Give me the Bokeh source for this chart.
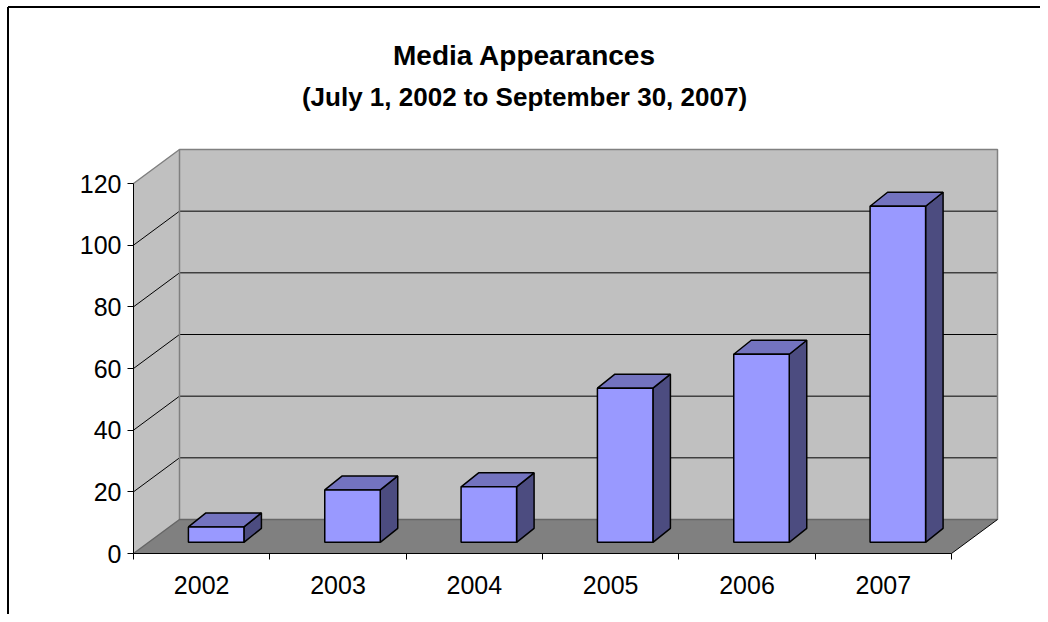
from bokeh.plotting import figure
from bokeh.models import Range1d, LinearAxis, FixedTicker
from bokeh.embed import file_html
from bokeh.resources import INLINE
from bokeh.core.properties import value

# ---- data ----
years = ["2002", "2003", "2004", "2005", "2006", "2007"]
counts = [5, 17, 18, 50, 61, 109]
y_ticks = [0, 20, 40, 60, 80, 100, 120]
title_text = "Media Appearances"
subtitle_text = "(July 1, 2002 to September 30, 2007)"

W, H = 1040, 614
AX_L, AX_B = 133, 553       # front axis corner (px)
PX_X = 818 / 6              # px per category
PX_Y = 370 / 120            # px per unit
x0 = -AX_L / PX_X
x1 = (W - AX_L) / PX_X
y0 = -(H - AX_B) / PX_Y
y1 = 120 + (AX_B - 370) / PX_Y

def sy(py):  # screen y (px from top) -> data y
    return (AX_B - py) / PX_Y

def sx(px):
    return (px - AX_L) / PX_X

p = figure(width=W, height=H, output_backend="svg", toolbar_location=None,
           x_axis_type=None, y_axis_type=None,
           x_range=Range1d(x0, x1), y_range=Range1d(y0, y1),
           min_border=0, background_fill_color="white", border_fill_color="white")
p.outline_line_color = None

n = len(years)
ymax = y_ticks[-1]
DX = 46 / PX_X
DY = 34 / PX_Y

WALL = "#C0C0C0"
FLOOR = "#808080"
EDGE = "#808080"

# side wall
p.patch([0, DX, DX, 0], [0, DY, ymax + DY, ymax], fill_color=WALL, line_color=None)
# back wall
p.patch([DX, n + DX, n + DX, DX], [DY, DY, ymax + DY, ymax + DY], fill_color=WALL, line_color=None)
# floor
p.patch([0, n, n + DX, DX], [0, 0, DY, DY], fill_color=FLOOR, line_color=None)

# gridlines
for t in y_ticks[1:-1]:
    p.line([0, DX, n + DX], [t, t + DY, t + DY], line_color="black", line_width=1)

# wall edges
p.line([0, DX, n + DX, n + DX], [ymax, ymax + DY, ymax + DY, DY], line_color=EDGE, line_width=1.5)
p.line([DX, DX], [DY, ymax + DY], line_color=EDGE, line_width=1.5)
p.line([0, DX, n + DX], [0, DY, DY], line_color="#666666", line_width=1.5)
p.line([n, n + DX], [0, DY], line_color="black", line_width=1)

# bars
BW = 55.5 / PX_X
OX = 14.5 / PX_X
OY = 11.2 / PX_Y
BX = 17.5 / PX_X
BY = 14 / PX_Y
lefts = [i + 0.5 - BW / 2 + OX for i in range(n)]
rights = [l + BW for l in lefts]
bottoms = [OY] * n
tops = [OY + c for c in counts]

side_xs = [[r, r + BX, r + BX, r] for r in rights]
side_ys = [[b, b + BY, t + BY, t] for b, t in zip(bottoms, tops)]
top_xs = [[l, r, r + BX, l + BX] for l, r in zip(lefts, rights)]
top_ys = [[t, t, t + BY, t + BY] for t in tops]

p.patches(side_xs, side_ys, fill_color="#4C4C80", line_color="black", line_width=1.5)
p.patches(top_xs, top_ys, fill_color="#7373BF", line_color="black", line_width=1.5)
p.quad(left=lefts, right=rights, bottom=bottoms, top=tops,
       fill_color="#9999FF", line_color="black", line_width=1.5)

# border (top & left edges of chart area)
p.line([sx(7.5), sx(7.5)], [sy(6.5), y0], line_color="black", line_width=2)
p.line([sx(7.5), x1], [sy(6.5), sy(6.5)], line_color="black", line_width=2)

# titles
cx = sx(524)
p.text(x=[cx], y=[sy(55)], text=[title_text],
       text_font=value("Liberation Sans"), text_font_style="bold",
       text_font_size="28px", text_align="center", text_baseline="alphabetic", text_color="black")
p.text(x=[cx], y=[sy(96)], text=[subtitle_text],
       text_font=value("Liberation Sans"), text_font_style="bold",
       text_font_size="26px", text_align="center", text_baseline="alphabetic", text_color="black")

# axes
yaxis = LinearAxis(fixed_location=0, bounds=(0, ymax), ticker=FixedTicker(ticks=y_ticks))
yaxis.major_tick_out = 6
yaxis.major_tick_in = 0
yaxis.minor_tick_out = 0
yaxis.minor_tick_in = 0
yaxis.axis_line_color = "black"
yaxis.major_tick_line_color = "black"
yaxis.major_label_text_font = "Liberation Sans"
yaxis.major_label_text_font_size = "25px"
yaxis.major_label_text_color = "black"
yaxis.major_label_standoff = 6
p.add_layout(yaxis, "left")

centers = [i + 0.5 for i in range(n)]
xaxis = LinearAxis(fixed_location=0, bounds=(0, n),
                   ticker=FixedTicker(ticks=centers, minor_ticks=list(range(n + 1))))
xaxis.major_label_overrides = {c: y for c, y in zip(centers, years)}
xaxis.major_tick_out = 0
xaxis.major_tick_in = 0
xaxis.minor_tick_out = 6
xaxis.minor_tick_in = 0
xaxis.minor_tick_line_color = "black"
xaxis.axis_line_color = "black"
xaxis.major_label_text_font = "Liberation Sans"
xaxis.major_label_text_font_size = "25px"
xaxis.major_label_text_color = "black"
xaxis.major_label_standoff = 16
p.add_layout(xaxis, "below")

open("out.html", "w").write(file_html(p, INLINE))
